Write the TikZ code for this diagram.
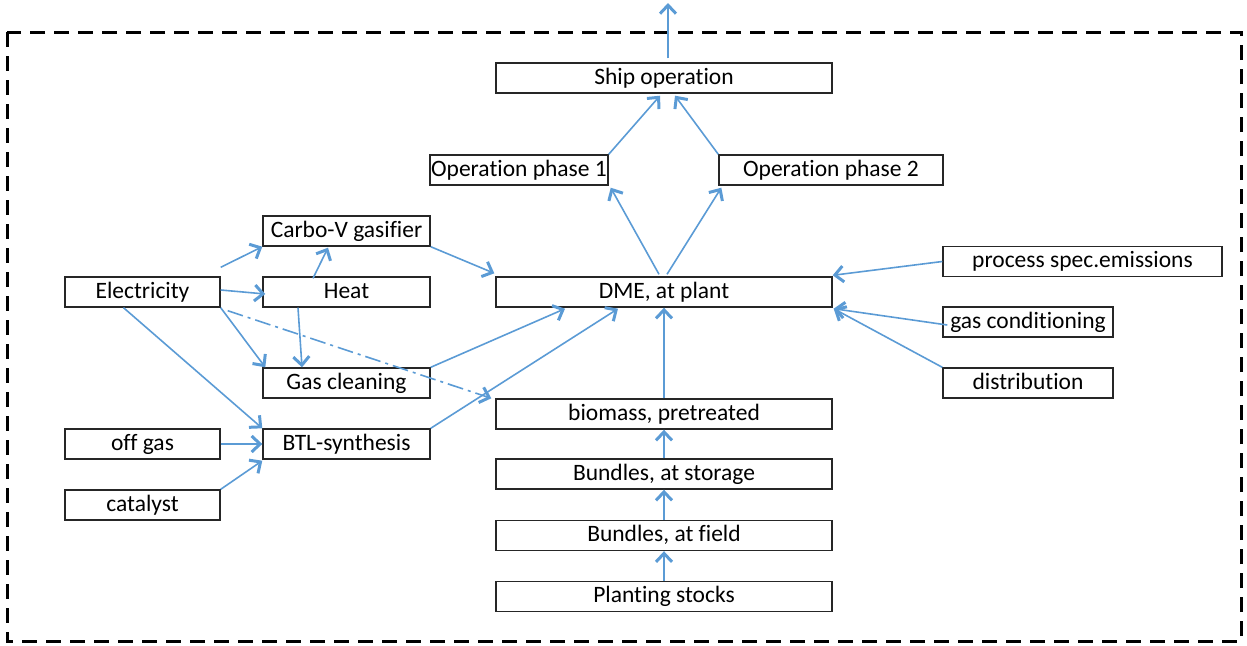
\documentclass[tikz,border=0pt]{standalone}
\usepackage{fontspec}
\setmainfont{Carlito}[Ligatures=NoCommon]
\usetikzlibrary{arrows.meta,calc}
\definecolor{flow}{RGB}{91,155,213}
\begin{document}
\begin{tikzpicture}[x=1pt,y=-1pt,
  box/.style={draw=black!85,line width=1.4pt,rectangle,inner sep=0pt,
    minimum height=30pt,text height=16pt,text depth=4pt,
    font=\fontsize{23.5}{27}\selectfont},
  flowarrow/.style={draw=flow,line width=1.6pt,
    -{Straight Barb[length=8.5pt,width=16pt,line width=3pt]}},
  dashdotarrow/.style={flowarrow,dash pattern=on 16pt off 5pt on 3pt off 5pt},
  frame/.style={draw=black,line width=3pt,dash pattern=on 15pt off 9pt}]
\useasboundingbox (0,0) rectangle (1247,645);

% system boundary
\draw[frame] (7,32) rectangle (1241,641);

% process boxes
\node[box,minimum width=336pt] (ship) at (664,78) {Ship operation};
\node[box,minimum width=178pt] (op1) at (519,170) {Operation phase 1};
\node[box,minimum width=224pt] (op2) at (831,170) {Operation phase 2};
\node[box,minimum width=336pt] (dme) at (664,292) {DME, at plant};
\node[box,minimum width=167pt] (carbo) at (346.5,231) {Carbo-V gasifier};
\node[box,minimum width=167pt] (heat) at (346.5,292) {Heat};
\node[box,minimum width=167pt] (gascl) at (346.5,383) {Gas cleaning};
\node[box,minimum width=167pt] (btl) at (346.5,444) {BTL-synthesis};
\node[box,minimum width=155pt] (elec) at (142.5,292) {Electricity};
\node[box,minimum width=155pt] (offgas) at (142.5,444) {off gas};
\node[box,minimum width=155pt] (cat) at (142.5,505) {catalyst};
\node[box,minimum width=336pt] (biomass) at (664,414) {biomass, pretreated};
\node[box,minimum width=336pt] (storage) at (664,474) {Bundles, at storage};
\node[box,minimum width=336pt] (field) at (664,535.5) {Bundles, at field};
\node[box,minimum width=336pt] (plant) at (664,596.5) {Planting stocks};
\node[box,minimum width=279pt] (pse) at (1082.5,261.5) {process spec.emissions};
\node[box,minimum width=170pt] (gascond) at (1028,322) {gas conditioning};
\node[box,minimum width=170pt] (distr) at (1028,383) {distribution};

\coordinate (out) at (668,3);

% connectors
\draw[flowarrow] ($(ship.north)+(4,-4)$) -- (out);
\draw[flowarrow] (op1.north east) -- ($(ship.south)+(-4,2)$);
\draw[flowarrow] (op2.north west) -- ($(ship.south)+(11,2)$);
\draw[flowarrow] ($(dme.north)+(-5,-2)$) -- ($(op1.south east)+(2,2)$);
\draw[flowarrow] ($(dme.north)+(3,-2)$) -- ($(op2.south west)+(3,2)$);
\draw[flowarrow] (carbo.south east) -- ($(dme.north west)+(-1,-3)$);
\draw[flowarrow] ($(elec.north east)+(0,-9)$) -- (carbo.south west);
\draw[flowarrow] ($(elec.east)+(0,-2)$) -- ($(heat.west)+(3,2)$);
\draw[flowarrow] ($(heat.north)+(-33.5,2)$) -- ($(carbo.south)+(-18.5,1)$);
\draw[flowarrow] ($(heat.south)+(-48.5,0)$) -- ($(gascl.north)+(-44.5,0)$);
\draw[flowarrow] (elec.south east) -- ($(gascl.north west)+(3,0)$);
\draw[dashdotarrow] ($(elec.south east)+(7,3)$) -- ($(biomass.north west)+(-4,0)$);
\draw[flowarrow] ($(elec.south)+(-19,0)$) -- (btl.north west);
\draw[flowarrow] (offgas.east) -- (btl.west);
\draw[flowarrow] (cat.north east) -- ($(btl.south west)+(0,1)$);
\draw[flowarrow] (gascl.north east) -- ($(dme.south)+(-99,1)$);
\draw[flowarrow] (btl.north east) -- ($(dme.south)+(-46,1)$);
\draw[flowarrow] (biomass.north) -- (dme.south);
\draw[flowarrow] (storage.north) -- (biomass.south);
\draw[flowarrow] (field.north) -- (storage.south);
\draw[flowarrow] (plant.north) -- (field.south);
\draw[flowarrow] (pse.west) -- ($(dme.north east)+(0,-1)$);
\draw[flowarrow] ($(gascond.west)+(5,3)$) -- ($(dme.south east)+(1,1)$);
\draw[flowarrow] (distr.north west) -- ($(dme.south east)+(1,1)$);
\end{tikzpicture}
\end{document}
